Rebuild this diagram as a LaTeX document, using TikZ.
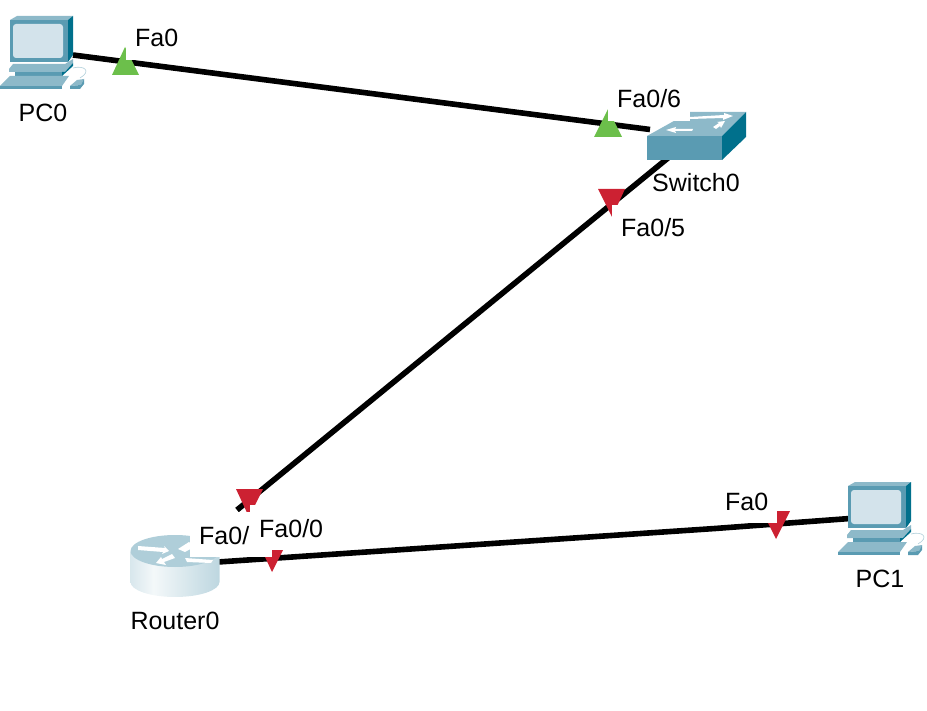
\documentclass[tikz,border=0pt]{standalone}
\usepackage{fontspec}
\setmainfont{Liberation Sans}
\definecolor{pcfront}{HTML}{5A9BB2}
\definecolor{pctop}{HTML}{8DB9C9}
\definecolor{pcside}{HTML}{00708C}
\definecolor{pcscreen}{HTML}{D3E3EB}
\definecolor{portup}{HTML}{6CBF4B}
\definecolor{portdown}{HTML}{CC2132}
\pgfdeclarehorizontalshading{routerside}{100bp}{
  color(0bp)=(pctop!80!white); color(38bp)=(white!90!pctop); color(100bp)=(pctop!90!white)}
\tikzset{
  link/.style={line width=5.6pt},
  uptri/.style={fill=portup},
  downtri/.style={fill=portdown},
  portlabel/.style={fill=white,anchor=base west,inner xsep=9pt,inner ysep=0pt,text height=32pt,text depth=13pt,font=\fontsize{25}{29}\selectfont},
  devlabel/.style={inner sep=0pt,font=\fontsize{25}{29}\selectfont},
  pc/.pic={
    \fill[pctop] (10,20)--(17,16)--(73,16)--(68,20)--cycle;
    \fill[pcfront] (10,20) rectangle (68,62);
    \fill[pcside] (68,20)--(73,16)--(73,55)--(68,62)--cycle;
    \fill[pcscreen,rounded corners=3pt] (13,24) rectangle (63,58);
    \fill[pctop] (9,69)--(13,64)--(65,64)--(73,59)--(73,63)--(65,72)--(9,72)--cycle;
    \fill[pcfront] (15,72) rectangle (62,76);
    \fill[pcside] (62,76)--(62,72)--(65,72)--(73,63)--(73,66)--cycle;
    \fill[pctop] (10,76)--(69,76)--(62,86)--(0,86)--cycle;
    \fill[pcfront] (0,86)--(62,86)--(62,89)--(0,89)--cycle;
    \fill[pctop] (70,86)--(77,80)--(84,79)--(81,85)--cycle;
    \fill[pcfront] (70,86)--(81,85)--(84,79)--(84,84)--(80,89)--(70,89)--cycle;
    \draw[pctop!70!white,line width=0.6pt] (73,68) .. controls (84,65) and (92,71) .. (80,78);
  },
  router/.pic={
    \shade[shading=routerside] (-44.5,0)--(-44.5,31) arc (180:0:44.5 and 15)--(44.5,0)--cycle;
    \fill[pctop!70!white] (0,0) ellipse (44.5 and 16);
    \fill[white] (-37,-5)--(-10,-3)--(-11,-5)--(-6,0)--(-13,3)--(-12,1)--(-37,-1)--cycle;
    \fill[white] (-19,12)--(-14,6)--(-13,8)--(-3,3)--(0,7)--(-11,11)--(-9,14)--cycle;
    \fill[white] (3,-2)--(14,-9)--(16,-7)--(19,-4)--(10,1)--cycle;
    \fill[white] (10,7)--(38,9)--(36,12)--(12,11)--cycle;
  },
  switch/.pic={
    \fill[pctop] (0,0)--(43,-24)--(99,-24)--(75,0)--cycle;
    \fill[pcfront] (0,0) rectangle (75,24);
    \fill[pcside] (75,0)--(99,-24)--(99,1)--(75,24)--cycle;
    \fill[white] (19,-6)--(29,-9)--(28,-7)--(46,-7)--(45,-5)--(28,-5)--(29,-3)--cycle;
    \fill[white] (86,-20)--(77,-23)--(77,-21)--(43,-19)--(43,-17)--(76,-18)--(76,-16)--cycle;
    \fill[white] (66,-9)--(72,-13)--(70,-14)--(78,-15)--(74,-8)--(73,-10)--(69,-7)--cycle;
  }
}
\begin{document}
\begin{tikzpicture}[x=1pt,y=-1pt]
\useasboundingbox (0,0) rectangle (927,711);

\coordinate (pc0port) at (73,55);
\coordinate (swport6) at (650,129.5);
\coordinate (swport5) at (668,158);
\coordinate (rport1) at (237,510);
\coordinate (rport0) at (218,562);
\coordinate (bend) at (715,528.5);
\coordinate (pc1port) at (850,518.5);

\draw [link](pc0port)--(swport6);
\draw [link](swport5)--(rport1);
\draw [link](rport0)--(bend)--(pc1port);

\fill [uptri](112,75)--(139,75)--(125,47)--cycle;
\fill [uptri](594,137)--(622,137)--(608,109)--cycle;
\fill [downtri](598,189)--(625,189)--(612,217)--cycle;
\fill [downtri](236,489)--(263,489)--(249,517)--cycle;
\fill [downtri](259,544)--(286,544)--(272,572)--cycle;
\fill [downtri](762,511)--(790,511)--(776,539)--cycle;

\pic at (0,0) {pc};
\pic at (838,466) {pc};
\pic at (647,136) {switch};
\pic at (175,551) {router};

\node [portlabel] (fapc0) at (126,47) {Fa0};
\node [portlabel] (fasw6) at (608,108) {Fa0/6};
\node [portlabel] (fasw5) at (612,237) {Fa0/5};
\node [portlabel] (far1) at (190,544) {Fa0/0};
\node [portlabel] (far0) at (250,537) {Fa0/0};
\node [portlabel] (fapc1) at (716,510) {Fa0};

\node [devlabel] (pc0) at (43,113) {PC0};
\node [devlabel] (switch0) at (696,183) {Switch0};
\node [devlabel] (router0) at (175,621) {Router0};
\node [devlabel] (pc1) at (880,579) {PC1};

\end{tikzpicture}
\end{document}
